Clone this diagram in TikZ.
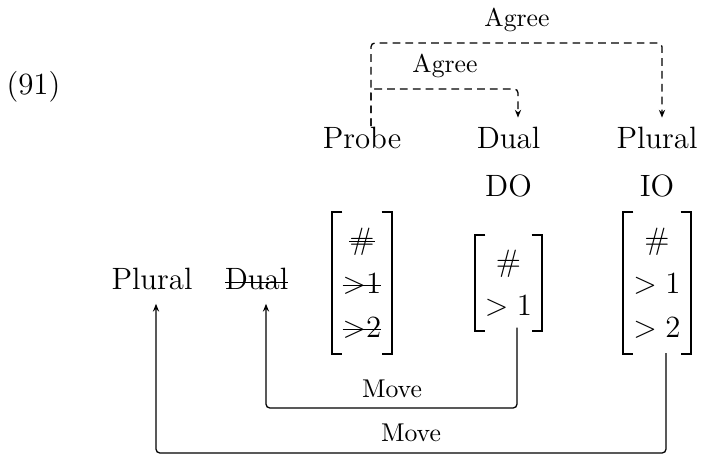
\documentclass[tikz,border=0pt]{standalone}
\usetikzlibrary{calc,arrows.meta}
\newcommand\strk[1]{\sbox0{#1}\rlap{\usebox0}\rule[0.23em]{\wd0}{0.45pt}}
\begin{document}
\begin{tikzpicture}[x=0.389pt,y=-0.389pt,
  word/.style={inner sep=0pt,font=\large,anchor=base},
  lab/.style={inner sep=0pt,font=\normalsize,anchor=base},
  feat/.style={inner sep=0pt,font=\large,align=center},
  brk/.style={line width=0.8pt},
  agree/.style={dash pattern=on 3pt off 2pt,line width=0.5pt,rounded corners=1.5pt,-{Stealth[length=3pt,width=2.4pt]}},
  move/.style={line width=0.5pt,rounded corners=1.5pt,-{Stealth[length=3pt,width=2.4pt]}}]
\useasboundingbox (0,0) rectangle (701,454);
\node[word] (ex) at (33.5,94) {(91)};
\node[word] (probe) at (362,148) {Probe};
\node[word] (dual) at (508.5,148) {Dual};
\node[word] (plural) at (657,148) {Plural};
\node[word] (do) at (508.5,196) {DO};
\node[word] (io) at (657,196) {IO};
\node[word] (lplural) at (152,290) {Plural};
\node[word] (ldual) at (256.5,290) {\strk{Dual}};
\node[feat,minimum width=22.6pt,minimum height=54.85pt] (m1) at (362,283)
  {\strk{\#}\\[3.2pt]\strk{$>$1}\\[3.2pt]\strk{$>$2}};
\node[feat,minimum width=25.3pt,minimum height=36.6pt] (m2) at (508.5,283)
  {$\#$\\[3.2pt]$>1$};
\node[feat,minimum width=25.7pt,minimum height=54.85pt] (m3) at (657,283)
  {$\#$\\[3.2pt]$>1$\\[3.2pt]$>2$};
\foreach \m in {m1,m2,m3} {
  \draw[brk] ($(\m.north west)+(10,0)$) -- (\m.north west) -- (\m.south west) -- ++(10,0);
  \draw[brk] ($(\m.north east)+(-10,0)$) -- (\m.north east) -- (\m.south east) -- ++(-10,0);
}
\coordinate (atop) at (517,43);
\coordinate (amid) at (445,89);
\draw[agree] ($(probe.north)+(9,0)$) |- (atop) -| ($(plural.north)+(5,-8.5)$);
\draw[agree] ($(probe.north)+(9,0)$) |- (amid) -| ($(dual.north)+(9.5,-8.5)$);
\node[lab] (ag1) at (517,26.5) {Agree};
\node[lab] (ag2) at (445,72.5) {Agree};
\coordinate (mvin) at (392,408);
\coordinate (mvout) at (411,453);
\draw[move] ($(m2.south)+(8.5,-3)$) |- (mvin) -| ($(ldual.south)+(9.5,13)$);
\draw[move] ($(m3.south)+(9,-1)$) |- (mvout) -| ($(lplural.south)+(4,13)$);
\node[lab] (mv1) at (392,398) {Move};
\node[lab] (mv2) at (411,442) {Move};
\end{tikzpicture}
\end{document}
